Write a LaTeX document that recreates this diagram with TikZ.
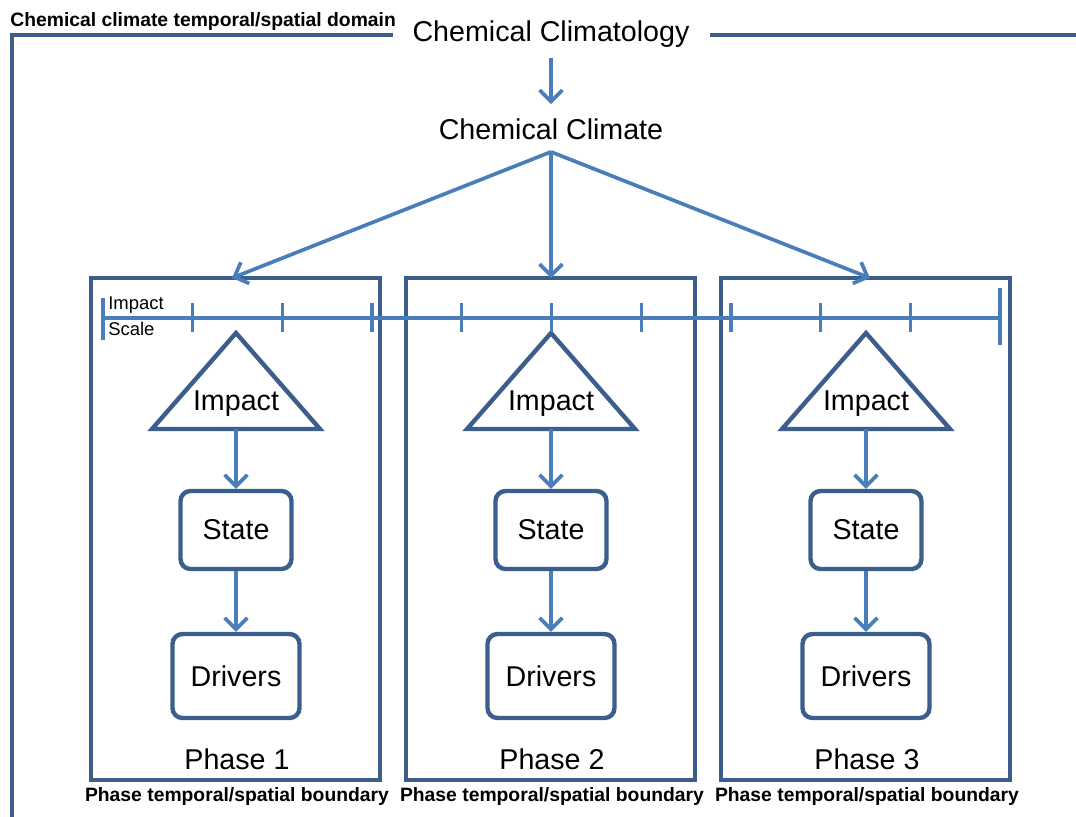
\documentclass[tikz,border=0pt]{standalone}
\usepackage{fontspec}
\setmainfont{Liberation Sans}
\usetikzlibrary{arrows.meta}
\definecolor{framec}{HTML}{3B5E8C}
\definecolor{flowc}{HTML}{4A7EBB}
\tikzset{
  frameline/.style={draw=framec, line width=2.5pt},
  flow/.style={draw=flowc, line width=2.1pt, -{Straight Barb[length=6.5pt,width=13pt,line width=2.1pt]}},
  scaleline/.style={draw=flowc, line width=1.9pt},
  bigtext/.style={font=\fontsize{16.3}{19}\selectfont, inner sep=0pt},
  smallbold/.style={font=\fontsize{11}{13}\selectfont\bfseries, inner sep=0pt},
  roundbox/.style={frameline, rounded corners=0.2cm, font=\fontsize{16.3}{19}\selectfont, inner sep=0pt}
}
\begin{document}
\begin{tikzpicture}[x=0.02cm, y=-0.02cm]
    \useasboundingbox (0,0) rectangle (1076,816);
    % outer domain frame
    \draw [frameline] (393,35) -- (12,35) -- (12,818);
    \draw [frameline] (710,35) -- (1078,35);
    \node [smallbold, anchor=west] (domain) at (10,21) {Chemical climate temporal/spatial domain};
    % top of the chain
    \node [bigtext] (climatology) at (551,34) {Chemical Climatology};
    \node [bigtext] (climate) at (551,129) {Chemical Climate};
    \draw [flow] (climatology.south) ++(0,10) coordinate (cs) (cs) -- (551,104) coordinate (ce);
    % phases
    \foreach \i/\cx in {1/236,2/551,3/866} {
        \node [frameline, minimum width={289*0.02cm}, minimum height={502*0.02cm}, inner sep=0pt] (phase\i) at (\cx-0.5,529) {};
        \coordinate (top\i) at (\cx+4*\i-8,278);
        \draw [frameline, line join=miter] (\cx,333) -- (\cx+84,429) -- (\cx-84,429) -- cycle;
        \coordinate (tribase\i) at (\cx,429);
        \node [bigtext] (impact\i) at (\cx,404) {Impact};
        \node [roundbox, minimum width={111*0.02cm}, minimum height={78*0.02cm}] (state\i) at (\cx,530) {State};
        \node [roundbox, minimum width={127*0.02cm}, minimum height={84*0.02cm}] (drivers\i) at (\cx,676) {Drivers};
        \node [bigtext] (label\i) at (\cx+1,759) {Phase \i};
        \node [smallbold] (bound\i) at (\cx+1,796) {Phase temporal/spatial boundary};
        \draw [flow] (tribase\i) -- (state\i.north);
        \draw [flow] (state\i.south) -- (drivers\i.north);
    }
    \draw [flow] (climate.south) ++(0,12) coordinate (fork) (fork) -- (top1);
    \draw [flow] (fork) -- (top2);
    \draw [flow] (fork) -- (top3);
    % impact scale
    \coordinate (sl) at (103,318);
    \coordinate (sr) at (1000,318);
    \draw [scaleline] (sl) -- (sr);
    \draw [scaleline] (103,298) -- (103,340);
    \draw [scaleline] (1000,288) -- (1000,345);
    \foreach \k in {1,...,9} {
        \draw [scaleline] (103+\k*89.7,303) -- (103+\k*89.7,332);
    }
    \node [font=\fontsize{10.5}{12}\selectfont, anchor=west, inner sep=0pt] (scaletop) at (108,305) {Impact};
    \node [font=\fontsize{10.5}{12}\selectfont, anchor=west, inner sep=0pt] (scalebot) at (108,329) {Scale};
\end{tikzpicture}
\end{document}
